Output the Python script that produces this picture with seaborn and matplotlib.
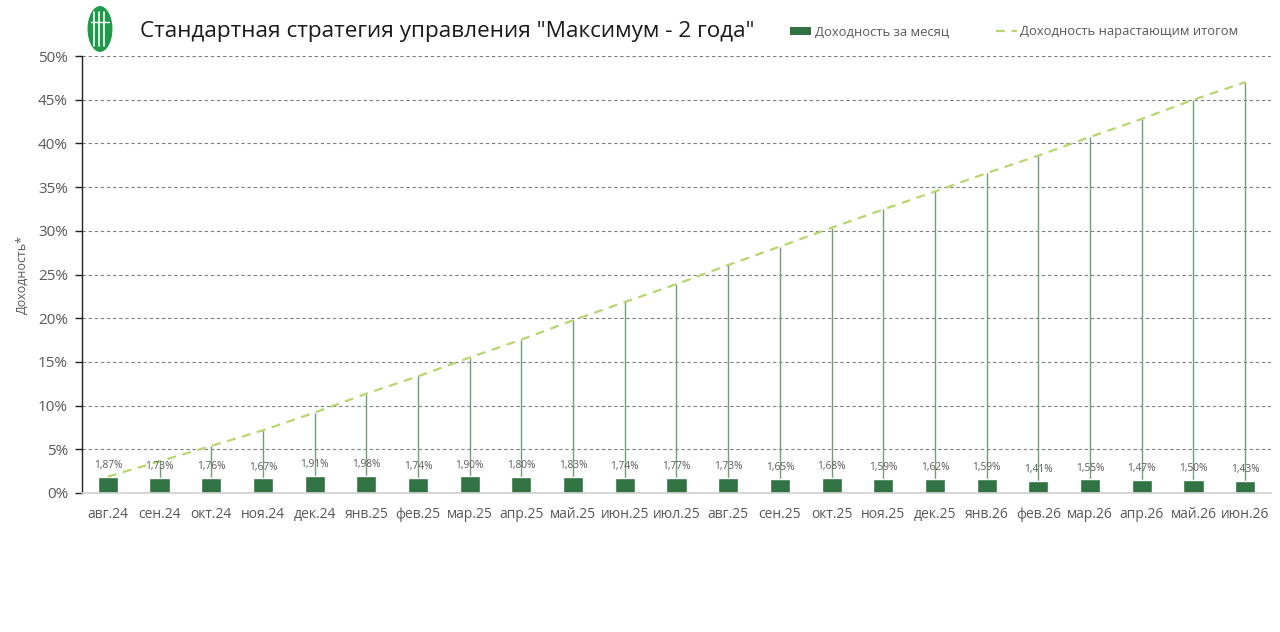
import matplotlib
matplotlib.use("Agg")
import matplotlib.pyplot as plt
import seaborn as sns
import pandas as pd
from matplotlib.patches import Ellipse, Patch
from matplotlib.lines import Line2D

months = ["авг.24", "сен.24", "окт.24", "ноя.24", "дек.24", "янв.25", "фев.25", "мар.25",
          "апр.25", "май.25", "июн.25", "июл.25", "авг.25", "сен.25", "окт.25", "ноя.25",
          "дек.25", "янв.26", "фев.26", "мар.26", "апр.26", "май.26", "июн.26"]
monthly = [1.87, 1.73, 1.76, 1.67, 1.91, 1.98, 1.74, 1.90, 1.80, 1.83, 1.74, 1.77,
           1.73, 1.65, 1.68, 1.59, 1.62, 1.59, 1.41, 1.55, 1.47, 1.50, 1.43]
cumulative = [1.87, 3.63, 5.38, 7.17, 9.20, 11.37, 13.35, 15.50, 17.55, 19.76, 21.85, 23.90,
              26.08, 28.20, 30.35, 32.44, 34.50, 36.60, 38.60, 40.74, 42.80, 45.00, 47.00]
y_ticks = [0, 5, 10, 15, 20, 25, 30, 35, 40, 45, 50]

title = 'Стандартная стратегия управления "Максимум - 2 года"'
lbl_month = "Доходность за месяц"
lbl_cum = "Доходность нарастающим итогом"
ylabel = "Доходность*"

sns.set_theme(style="white")
plt.rcParams["font.family"] = ["Open Sans", "DejaVu Sans"]

BAR = "#317342"
LINE = "#b7d670"
DROP = "#6f9f78"
TXT = "#595959"

df = pd.DataFrame({"month": months, "monthly": monthly, "cum": cumulative,
                   "idx": range(len(months))})

fig = plt.figure(figsize=(12.8, 6.32), dpi=100)
ax = fig.add_axes([82 / 1280, 1 - 493 / 632, 1189 / 1280, 437 / 632])

# gridlines
for t in y_ticks[1:]:
    ax.axhline(t, color="#7f7f7f", lw=0.8, ls=(0, (3, 2.5)), zorder=0)

# drop lines
ax.vlines(df["idx"], 0, df["cum"], color=DROP, lw=1.0, zorder=1)

sns.barplot(data=df, x="month", y="monthly", color=BAR, width=0.39,
            saturation=1, ax=ax, zorder=2)
sns.lineplot(data=df, x="idx", y="cum", color=LINE, lw=1.6, ax=ax,
             linestyle=(0, (4, 3)), zorder=3)

for i, v in enumerate(monthly):
    ax.text(i, v + 1.3, f"{v:.2f}%".replace(".", ","), ha="center", va="center",
            fontsize=7.3, color=TXT, zorder=4)

ax.set_xlim(-0.5, len(months) - 0.5)
ax.set_ylim(0, 50)
ax.set_yticks(y_ticks)
ax.set_yticklabels([f"{t}%" for t in y_ticks])
ax.set_xticks(range(len(months)))
ax.set_xticklabels(months)
ax.set_xlabel("")
ax.set_ylabel(ylabel, fontsize=9, color=TXT)
ax.yaxis.set_label_coords(-0.045, 0.5)

ax.tick_params(axis="y", which="major", length=5, width=1, color="#222222",
               direction="out", labelsize=11, labelcolor=TXT, left=True, pad=5)
ax.tick_params(axis="x", length=0, labelsize=10, labelcolor=TXT, pad=10)

for s in ["top", "right"]:
    ax.spines[s].set_visible(False)
ax.spines["left"].set_color("#222222")
ax.spines["left"].set_linewidth(1)
ax.spines["bottom"].set_color("#d0d0d0")
ax.spines["bottom"].set_linewidth(1.2)

# logo
W, H = 1280, 632
logo = Ellipse((100 / W, 1 - 29 / H), 27 / W, 48 / H, transform=fig.transFigure,
               facecolor="#1f9a4a", edgecolor="white", lw=1.5)
fig.patches.append(logo)
for xo in [-6, -1, 4]:
    fig.lines.append(Line2D([(100 + xo) / W] * 2, [1 - 12 / H, 1 - 46 / H],
                            transform=fig.transFigure, color="white", lw=1.2))
fig.lines.append(Line2D([91 / W, 109 / W], [1 - 22 / H] * 2,
                        transform=fig.transFigure, color="white", lw=1.0))

fig.text(140 / W, 1 - 32 / H, title, fontsize=16.2, color="#1a1a1a",
         ha="left", va="center")

handles = [Patch(facecolor=BAR, edgecolor="none"),
           Line2D([0], [0], color=LINE, lw=1.6, linestyle=(0, (4, 3)))]
fig.legend(handles, [lbl_month, lbl_cum], loc="center left",
           bbox_to_anchor=(778 / W, 1 - 32 / H), ncol=2, frameon=False,
           fontsize=9.4, labelcolor=TXT, handlelength=1.6, handleheight=0.5,
           handletextpad=0.3, columnspacing=3.6)

fig.savefig("out.png", dpi=100, facecolor="white")
